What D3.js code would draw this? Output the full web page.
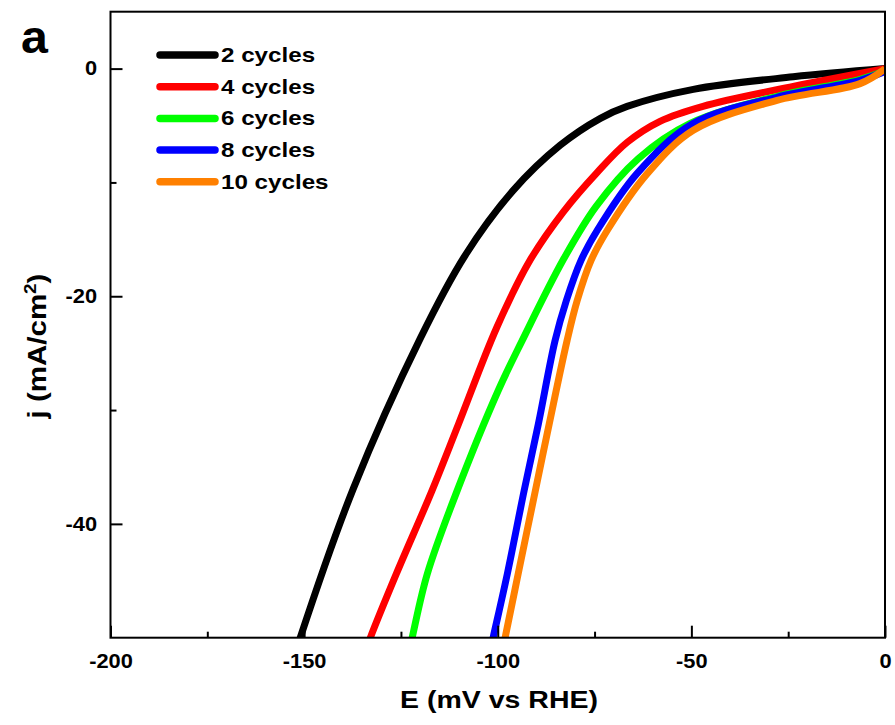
<!DOCTYPE html>
<html>
<head>
<meta charset="utf-8">
<script src="https://cdn.jsdelivr.net/npm/d3@7"></script>
<style>
  html, body { margin: 0; padding: 0; background: #fff; }
  svg text { font-family: "Liberation Sans", Arial, sans-serif; font-weight: bold; fill: #000; }
</style>
</head>
<body>
<svg id="chart" width="895" height="725"></svg>
<script>
// ---- data (E in mV vs RHE, j in mA/cm2) ----
const seriesNames = ["2 cycles", "4 cycles", "6 cycles", "8 cycles", "10 cycles"];
const seriesColors = ["#000000", "#ff0000", "#00ff00", "#0000ff", "#ff8000"];

const cycles2E = [-152.8, -151.0, -137.3, -120.0, -108.4, -96.0, -83.9, -73.5, -66.6, -49.5, -23.7, 0];
const cycles2J = [-52.0, -50.0, -36.9, -23.7, -16.4, -10.7, -6.74, -4.37, -3.32, -1.82, -0.72, 0];

const cycles4E = [-135.0, -132.9, -126.2, -117.0, -110.1, -100.2, -91.6, -83.1, -74.3, -66.6, -58.1, -47.0, -23.7, 0];
const cycles4J = [-52.0, -50.0, -44.4, -37.1, -31.2, -22.7, -16.8, -12.6, -9.11, -6.48, -4.63, -3.31, -1.56, 0];

const cycles6E = [-123.4, -122.1, -118.2, -110.5, -99.9, -93.7, -83.1, -74.6, -63.7, -50.3, -27.9, -6.45, 0];
const cycles6J = [-52.0, -50.0, -44.4, -37.1, -28.3, -23.9, -16.8, -12.1, -7.9, -4.81, -2.43, -0.94, -0.19];

const cycles8E = [-102.5, -101.2, -97.5, -93.2, -89.5, -85.2, -82.3, -78.5, -74.3, -64.0, -49.5, -27.9, -6.45, 0];
const cycles8J = [-52.0, -50.0, -44.35, -37.1, -31.2, -23.9, -20.4, -16.85, -14.2, -9.2, -4.81, -2.52, -1.03, -0.24];

const cycles10E = [-99.4, -98.1, -94.7, -90.3, -86.7, -82.1, -79.5, -75.9, -71.7, -61.4, -49.5, -27.9, -6.45, 0];
const cycles10J = [-52.0, -50.0, -44.35, -37.1, -31.2, -23.9, -20.4, -16.85, -14.2, -9.23, -5.42, -2.79, -1.32, -0.02];

const xMajorTicks = [-200, -150, -100, -50, 0];
const xMinorTicks = [-175, -125, -75, -25];
const yMajorTicks = [0, -20, -40];
const yMinorTicks = [-10, -30];

const xDomain = [-200, 0];
const yDomain = [-50, 5];

// ---- layout ----
const margin = { left: 110.5, top: 11.7 };
const pw = 885 - margin.left, ph = 637.7 - margin.top;
const SX = 1.24; // horizontal text stretch seen in the reference

const svg = d3.select("#chart");
const g = svg.append("g").attr("transform", `translate(${margin.left},${margin.top})`);

const x = d3.scaleLinear().domain(xDomain).range([0, pw]);
const y = d3.scaleLinear().domain(yDomain).range([ph, 0]);

g.append("clipPath").attr("id", "clip")
  .append("rect").attr("x", 0).attr("y", 0).attr("width", pw).attr("height", ph);

// curves
const series = [
  { E: cycles2E, J: cycles2J },
  { E: cycles4E, J: cycles4J },
  { E: cycles6E, J: cycles6J },
  { E: cycles8E, J: cycles8J },
  { E: cycles10E, J: cycles10J }
];
const line = d3.line().x(d => x(d[0])).y(d => y(d[1])).curve(d3.curveCatmullRom.alpha(0.5));
const curves = g.append("g").attr("clip-path", "url(#clip)");
series.forEach((s, i) => {
  curves.append("path")
    .datum(s.E.map((e, k) => [e, s.J[k]]))
    .attr("d", line)
    .attr("fill", "none")
    .attr("stroke", seriesColors[i])
    .attr("stroke-width", 7)
    .attr("stroke-linejoin", "round");
});

// axes
const fmt = d => String(d);
const xAxis = g.append("g").attr("transform", `translate(0,${ph})`)
  .call(d3.axisBottom(x).tickValues(xMajorTicks).tickSize(-12).tickPadding(16).tickFormat(fmt));
const xAxisMinor = g.append("g").attr("transform", `translate(0,${ph})`)
  .call(d3.axisBottom(x).tickValues(xMinorTicks).tickSize(-6).tickFormat(""));
const yAxis = g.append("g")
  .call(d3.axisLeft(y).tickValues(yMajorTicks).tickSize(-12).tickPadding(12).tickFormat(fmt));
const yAxisMinor = g.append("g")
  .call(d3.axisLeft(y).tickValues(yMinorTicks).tickSize(-6).tickFormat(""));

[xAxis, xAxisMinor, yAxis, yAxisMinor].forEach(a => {
  a.select(".domain").remove();
  a.selectAll(".tick line").attr("stroke", "#000").attr("stroke-width", 2);
  a.selectAll(".tick text")
    .style("font-size", "19.5px")
    .style("font-family", "Liberation Sans, Arial, sans-serif")
    .style("font-weight", "bold")
    .attr("transform", "scale(1.12,1)");
});

// frame
g.append("rect").attr("x", 0).attr("y", 0).attr("width", pw).attr("height", ph)
  .attr("fill", "none").attr("stroke", "#000").attr("stroke-width", 2);

// axis titles
svg.append("text").attr("transform", `translate(499,708) scale(1.24,1)`).attr("text-anchor", "middle")
  .style("font-size", "23px").text("E (mV vs RHE)");

const yt = svg.append("text").attr("transform", "translate(46,346) rotate(-90) scale(1.18,1)")
  .attr("text-anchor", "middle").style("font-size", "25px");
yt.append("tspan").text("j (mA/cm");
yt.append("tspan").attr("dy", -10).style("font-size", "16px").text("2");
yt.append("tspan").attr("dy", 10).text(")");

// panel label
svg.append("text").attr("transform", "translate(21,53) scale(1.05,1)").style("font-size", "46px").text("a");

// legend
const legY0 = 55, legDy = 31.7;
seriesNames.forEach((name, i) => {
  const ly = legY0 + i * legDy;
  svg.append("line").attr("x1", 160).attr("x2", 215).attr("y1", ly).attr("y2", ly)
    .attr("stroke", seriesColors[i]).attr("stroke-width", 7.5).attr("stroke-linecap", "round");
  svg.append("text").attr("transform", `translate(221,${ly + 7}) scale(${SX},1)`)
    .style("font-size", "19.5px").text(name);
});
</script>
</body>
</html>
